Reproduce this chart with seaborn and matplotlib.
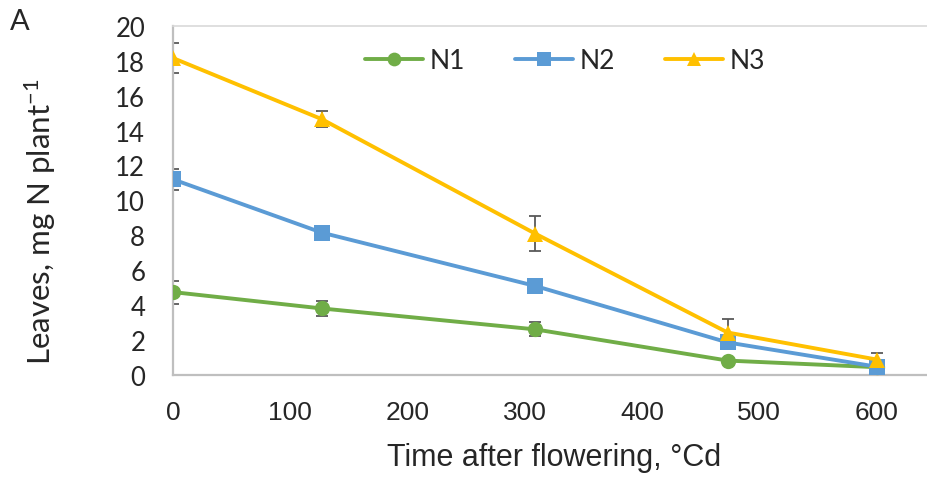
import numpy as np
import pandas as pd
import seaborn as sns
import matplotlib.pyplot as plt
from matplotlib.ticker import MultipleLocator

# values
time_cd = [0, 127, 309, 473, 600]
n1 = [4.73, 3.79, 2.59, 0.80, 0.42]
n1_err = [0.66, 0.42, 0.40, 0.10, 0.05]
n2 = [11.20, 8.14, 5.08, 1.84, 0.45]
n2_err = [0.62, 0.20, 0.20, 0.15, 0.10]
n3 = [18.16, 14.65, 8.08, 2.41, 0.86]
n3_err = [0.85, 0.45, 1.00, 0.80, 0.40]
levels = ['N1', 'N2', 'N3']
x_ticks = [0, 100, 200, 300, 400, 500, 600]
y_ticks = list(range(0, 21, 2))

sns.set_style('white')
plt.rcParams['font.family'] = ['Lato', 'DejaVu Sans']
plt.rcParams['mathtext.fontset'] = 'custom'
plt.rcParams['mathtext.rm'] = 'Lato'
plt.rcParams['mathtext.default'] = 'regular'

narrow = ['Liberation Sans Narrow', 'Liberation Sans', 'DejaVu Sans']
colors = {'N1': '#70AD47', 'N2': '#5B9BD5', 'N3': '#FFC000'}
markers = {'N1': 'o', 'N2': 's', 'N3': '^'}

df = pd.DataFrame({
    'time': time_cd * 3,
    'value': n1 + n2 + n3,
    'level': np.repeat(levels, len(time_cd)),
})

fig = plt.figure(figsize=(9.27, 4.81), dpi=100)
ax = fig.add_axes([0.1866, 0.2193, 0.8134, 0.7246])

for vals, err in [(n1, n1_err), (n2, n2_err), (n3, n3_err)]:
    ax.errorbar(time_cd, vals, yerr=err, fmt='none', ecolor='#595959',
                elinewidth=1.3, capsize=4.3, capthick=1.3, zorder=1)

sns.lineplot(data=df, x='time', y='value', hue='level', style='level',
             markers=markers, dashes=False, palette=colors, linewidth=2.8,
             markersize=11, markeredgewidth=0, errorbar=None, ax=ax, zorder=3)

ax.set_xlim(0, 643)
ax.set_ylim(0, 20)
ax.set_xticks(x_ticks)
ax.set_yticks(y_ticks)
ax.yaxis.set_minor_locator(MultipleLocator(0.4))
ax.tick_params(axis='y', which='major', direction='in', length=7, width=1.3,
               color='#BFBFBF', labelsize=18.5, pad=20)
ax.tick_params(axis='y', which='minor', direction='in', length=5, width=1.3,
               color='#BFBFBF')
ax.tick_params(axis='x', which='major', direction='in', length=7, width=1.3,
               color='#BFBFBF', labelsize=19, pad=18)
for lab in ax.get_xticklabels():
    lab.set_fontfamily(narrow)

for side in ['left', 'bottom']:
    ax.spines[side].set_color('#BFBFBF')
    ax.spines[side].set_linewidth(1.6)
ax.spines['top'].set_color('#D9D9D9')
ax.spines['top'].set_linewidth(1.2)
ax.spines['right'].set_visible(False)

ax.set_xlabel('Time after flowering, °Cd', fontsize=22, family=narrow)
ax.xaxis.set_label_coords(0.505, -0.195)
ax.set_ylabel('Leaves, mg N plant$^{-1}$', fontsize=22.5)
ax.yaxis.set_label_coords(-0.152, 0.44)

ax.legend(title=None, ncol=3, frameon=False, fontsize=19, loc='center',
          bbox_to_anchor=(0.52, 0.9), handlelength=2.2, handletextpad=0.25,
          columnspacing=1.9, markerscale=0.9)

fig.text(0.011, 0.955, 'A', fontsize=21, va='center', ha='left')

fig.savefig('out.png', dpi=100)
